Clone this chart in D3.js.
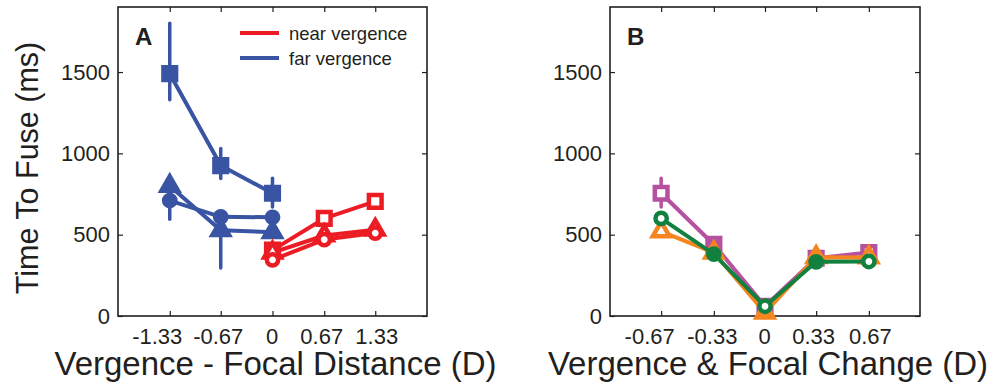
<!DOCTYPE html>
<html>
<head>
<meta charset="utf-8">
<script src="https://cdn.jsdelivr.net/npm/d3@7"></script>
<style>
  html, body { margin: 0; padding: 0; background: #fff; }
  svg { display: block; font-family: "Liberation Sans", Arial, Helvetica, sans-serif; }
</style>
</head>
<body>
<script>
// ---- Panel A: time to fuse vs. vergence - focal distance ----
const xTicksA = [-1.33, -0.67, 0, 0.67, 1.33];
const xTickLabelsA = ["-1.33", "-0.67", "0", "0.67", "1.33"];
const farX = [-1.33, -0.67, 0];
const farSquare = [1490, 925, 755];
const farSquareLo = [1330, 845, 670];
const farSquareHi = [1800, 1030, 847];
const farCircle = [710, 610, 607];
const farCircleLo = [595, 575, 585];
const farCircleHi = [825, 645, 630];
const farTriangle = [800, 527, 515];
const farTriangleLo = [770, 295, 500];
const farTriangleHi = [830, 600, 530];
const nearX = [0, 0.67, 1.33];
const nearSquare = [405, 600, 705];
const nearCircle = [345, 470, 510];
const nearTriangle = [390, 495, 530];

// ---- Panel B: time to fuse vs. vergence & focal change ----
const xTicksB = [-0.67, -0.33, 0, 0.33, 0.67];
const xTickLabelsB = ["-0.67", "-0.33", "0", "0.33", "0.67"];
const magentaSquare = [755, 440, 60, 355, 390];
const magentaLo = [670, 440, 60, 355, 390];
const magentaHi = [847, 440, 60, 355, 390];
const magentaFilled = [false, true, true, true, false];
const orangeTriangle = [520, 390, 20, 362, 360];
const orangeFilled = [false, true, true, true, false];
const greenCircle = [600, 380, 60, 333, 335];
const greenFilled = [false, true, false, true, false];

const yTicks = [0, 500, 1000, 1500];
const yTickLabels = ["0", "500", "1000", "1500"];
const legendLabels = ["near vergence", "far vergence"];

const C = {
  blue: "#3a54a4", red: "#ec1c24", magenta: "#b5519f",
  orange: "#f6851f", green: "#12813f", axis: "#231f20"
};

const W = 997, H = 391;
const svg = d3.select("body").append("svg").attr("width", W).attr("height", H);

const y = d3.scaleLinear().domain([0, 1900]).range([316, 7]);
const xA = d3.scaleLinear().domain([-2, 2]).range([118, 427]);
const xB = d3.scaleLinear().domain([-1, 1]).range([610, 920]);

const shapes = {
  square: d3.symbol().type(d3.symbolSquare).size(160)(),
  circle: d3.symbol().type(d3.symbolCircle).size(100)(),
  triangle: d3.symbol().type(d3.symbolTriangle).size(120)()
};

function drawAxes(x, ticks, labels, labelShift, title, letter) {
  const [x0, x1] = x.range();
  const [y0, y1] = y.range();
  const g = svg.append("g");

  const bottom = g.append("g").attr("transform", `translate(0,${y0})`)
    .call(d3.axisBottom(x).tickValues(ticks).tickFormat((d, i) => labels[i])
      .tickSizeInner(-5).tickSizeOuter(0).tickPadding(12));
  bottom.selectAll(".tick text").attr("dx", (d, i) => labelShift[i]);
  const top = g.append("g").attr("transform", `translate(0,${y1})`)
    .call(d3.axisTop(x).tickValues(ticks).tickFormat("").tickSizeInner(-5).tickSizeOuter(0));
  const left = g.append("g").attr("transform", `translate(${x0},0)`)
    .call(d3.axisLeft(y).tickValues(yTicks).tickFormat((d, i) => yTickLabels[i])
      .tickSizeInner(-5).tickSizeOuter(0).tickPadding(8));
  const right = g.append("g").attr("transform", `translate(${x1},0)`)
    .call(d3.axisRight(y).tickValues(yTicks).tickFormat("").tickSizeInner(-5).tickSizeOuter(0));

  [bottom, top, left, right].forEach(a => {
    a.select(".domain").remove();
    a.selectAll("line").attr("stroke", C.axis).attr("stroke-width", 1.2);
    a.selectAll("text").attr("fill", C.axis).style("font-size", "22px")
      .style("font-family", "'Liberation Sans', Arial, sans-serif");
  });

  g.append("rect").attr("x", x0).attr("y", y1).attr("width", x1 - x0).attr("height", y0 - y1)
    .attr("fill", "none").attr("stroke", C.axis).attr("stroke-width", 1.6);

  g.append("text").attr("x", (x0 + x1) / 2 + 3).attr("y", 375).attr("text-anchor", "middle")
    .attr("fill", C.axis).style("font-size", "33px").text(title);

  g.append("text").attr("x", x0 + 17).attr("y", 45).attr("fill", C.axis)
    .style("font-size", "24px").style("font-weight", "bold").text(letter);
}

function drawErrors(x, xs, lo, hi, color) {
  svg.append("g").selectAll("line").data(xs).join("line")
    .attr("x1", d => x(d)).attr("x2", d => x(d))
    .attr("y1", (d, i) => y(lo[i])).attr("y2", (d, i) => y(hi[i]))
    .attr("stroke", color).attr("stroke-width", 3.5).attr("stroke-linecap", "round");
}

function drawSeries(x, xs, vals, color, shape, filled) {
  const pts = xs.map((d, i) => [d, vals[i], filled[i]]);
  svg.append("path").datum(pts)
    .attr("d", d3.line().x(d => x(d[0])).y(d => y(d[1])))
    .attr("fill", "none").attr("stroke", color).attr("stroke-width", 4)
    .attr("stroke-linejoin", "round");
  svg.append("g").selectAll("path").data(pts).join("path")
    .attr("transform", d => `translate(${x(d[0])},${y(d[1])})`)
    .attr("d", shapes[shape])
    .attr("fill", d => d[2] ? color : "#fff")
    .attr("stroke", color).attr("stroke-width", 4.5)
    .attr("stroke-linejoin", "miter");
}

// Panel A
drawAxes(xA, xTicksA, xTickLabelsA, [-13, -3, -1, -3, 1], "Vergence - Focal Distance (D)", "A");
drawErrors(xA, farX, farTriangleLo, farTriangleHi, C.blue);
drawErrors(xA, farX, farCircleLo, farCircleHi, C.blue);
drawErrors(xA, farX, farSquareLo, farSquareHi, C.blue);
const allF = farX.map(() => true), allO = nearX.map(() => false);
drawSeries(xA, farX, farTriangle, C.blue, "triangle", allF);
drawSeries(xA, farX, farCircle, C.blue, "circle", allF);
drawSeries(xA, farX, farSquare, C.blue, "square", allF);
drawSeries(xA, nearX, nearSquare, C.red, "square", allO);
drawSeries(xA, nearX, nearTriangle, C.red, "triangle", allO);
drawSeries(xA, nearX, nearCircle, C.red, "circle", allO);

// Legend
const legend = svg.append("g");
[C.red, C.blue].forEach((c, i) => {
  legend.append("line").attr("x1", 240).attr("x2", 279)
    .attr("y1", 33 + i * 25).attr("y2", 33 + i * 25)
    .attr("stroke", c).attr("stroke-width", 4);
  legend.append("text").attr("x", 289).attr("y", 39.5 + i * 25)
    .attr("fill", C.axis).style("font-size", "18.5px").text(legendLabels[i]);
});

// Y axis title
svg.append("text").attr("transform", "translate(38,168) rotate(-90)")
  .attr("text-anchor", "middle").attr("fill", C.axis)
  .style("font-size", "30.5px").text("Time To Fuse (ms)");

// Panel B
drawAxes(xB, xTicksB, xTickLabelsB, [-12, -2, -1, -3, 1], "Vergence & Focal Change (D)", "B");
drawErrors(xB, xTicksB, magentaLo, magentaHi, C.magenta);
drawSeries(xB, xTicksB, magentaSquare, C.magenta, "square", magentaFilled);
drawSeries(xB, xTicksB, orangeTriangle, C.orange, "triangle", orangeFilled);
drawSeries(xB, xTicksB, greenCircle, C.green, "circle", greenFilled);
</script>
</body>
</html>
